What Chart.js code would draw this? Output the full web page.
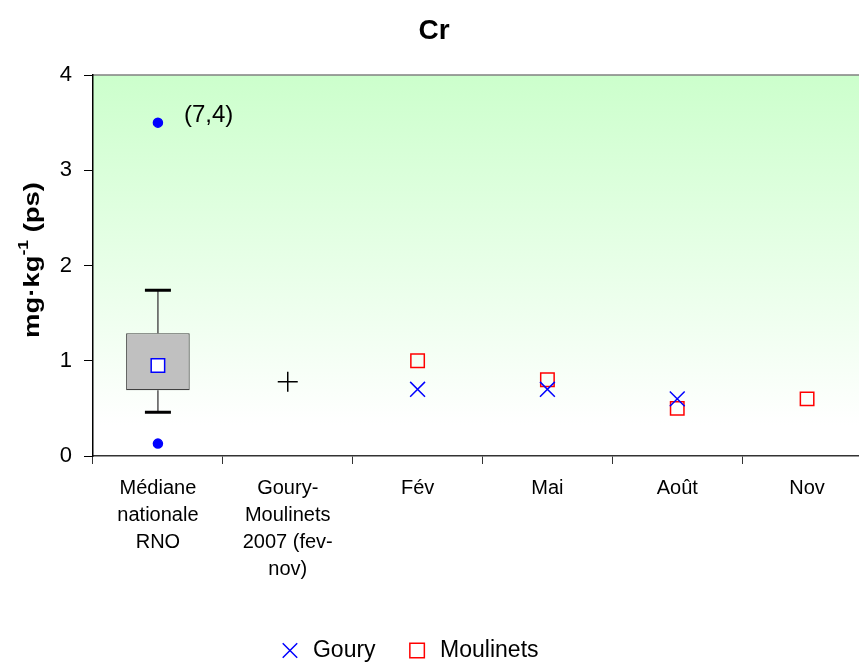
<!DOCTYPE html>
<html>
<head>
<meta charset="utf-8">
<script src="https://cdn.jsdelivr.net/npm/chart.js@4.4.0/dist/chart.umd.min.js"></script>
<style>
  html, body { margin: 0; padding: 0; background: #fff; overflow: hidden; }
  #wrap { width: 884px; height: 672px; position: relative; }
</style>
</head>
<body>
<div id="wrap"><canvas id="chart"></canvas></div>
<script>
// categories and values
const categories = [
  ['Médiane', 'nationale', 'RNO'],
  ['Goury-', 'Moulinets', '2007 (fev-', 'nov)'],
  'Fév', 'Mai', 'Août', 'Nov'
];
const rnoBox = [0.46, 0.69, 0.95, 1.29, 1.74];   // min, q1, median, q3, max
const rnoOutliers = [0.13, 3.5];
const outlierLabel = '(7,4)';
const goury2007 = [null, 0.78, null, null, null, null];
const goury = [null, null, 0.70, 0.70, 0.60, null];
const moulinets = [null, null, 1.0, 0.8, 0.5, 0.6];
const yTicks = [0, 1, 2, 3, 4];

const FONT = "'Liberation Sans', Arial, sans-serif";

// green gradient plot background + grey top border
const bgPlugin = {
  id: 'bg',
  beforeDraw(chart) {
    const { ctx, chartArea: a } = chart;
    const g = ctx.createLinearGradient(0, a.top, 0, a.bottom);
    g.addColorStop(0, '#ccffcc');
    g.addColorStop(0.92, '#ffffff');
    ctx.save();
    ctx.fillStyle = g;
    ctx.fillRect(a.left, a.top, a.right - a.left, a.bottom - a.top);
    ctx.strokeStyle = '#808080';
    ctx.lineWidth = 1.5;
    ctx.beginPath();
    ctx.moveTo(a.left, a.top);
    ctx.lineTo(a.right, a.top);
    ctx.stroke();
    ctx.restore();
  },
  afterLayout(chart) {
    // legend sits a little left of the canvas centre in the reference
    chart.legend.right -= 64;
  }
};

// whiskers for the RNO box
const whiskerPlugin = {
  id: 'whiskers',
  beforeDatasetsDraw(chart) {
    const { ctx, scales: { x, y } } = chart;
    const cx = x.getPixelForValue(0);
    const [lo, q1, , q3, hi] = rnoBox;
    ctx.save();
    ctx.strokeStyle = '#555';
    ctx.lineWidth = 1.5;
    ctx.beginPath();
    ctx.moveTo(cx, y.getPixelForValue(q3));
    ctx.lineTo(cx, y.getPixelForValue(hi));
    ctx.moveTo(cx, y.getPixelForValue(q1));
    ctx.lineTo(cx, y.getPixelForValue(lo));
    ctx.stroke();
    ctx.strokeStyle = '#000';
    ctx.lineWidth = 3;
    ctx.beginPath();
    [lo, hi].forEach(v => {
      const py = y.getPixelForValue(v);
      ctx.moveTo(cx - 13, py);
      ctx.lineTo(cx + 13, py);
    });
    ctx.stroke();
    ctx.restore();
  }
};

// title, "(7,4)" next to the top outlier, and the y axis title with superscript
const textPlugin = {
  id: 'texts',
  afterDraw(chart) {
    const { ctx, scales: { x, y } } = chart;
    ctx.save();
    ctx.fillStyle = '#000';
    ctx.textAlign = 'center';
    ctx.textBaseline = 'middle';
    ctx.font = 'bold 28px ' + FONT;
    ctx.fillText('Cr', 434, 31);

    ctx.font = '24px ' + FONT;
    ctx.textAlign = 'left';
    ctx.fillText(outlierLabel, x.getPixelForValue(0) + 26, y.getPixelForValue(rnoOutliers[1]) - 7);

    ctx.translate(33, 260);
    ctx.rotate(-Math.PI / 2);
    const bold = 'bold 22px ' + FONT;
    const sup = 'bold 14px ' + FONT;
    const parts = [['mg·kg', bold, 0], ['-1', sup, -9], [' (ps)', bold, 0]];
    let total = 0;
    parts.forEach(p => { ctx.font = p[1]; total += ctx.measureText(p[0]).width; });
    const stretch = 156 / total;
    ctx.scale(stretch, 1);
    let px = -total / 2;
    parts.forEach(p => {
      ctx.font = p[1];
      ctx.fillText(p[0], px, p[2]);
      px += ctx.measureText(p[0]).width;
    });
    ctx.restore();
  }
};

const pointSet = (label, data, style, radius, border, fill) => ({
  type: 'line',
  label,
  data,
  showLine: false,
  pointStyle: style,
  pointRadius: radius,
  pointHoverRadius: radius,
  pointBorderColor: border,
  pointBackgroundColor: fill,
  pointBorderWidth: 1.5,
  borderColor: border,
  backgroundColor: fill
});

const outlierSets = rnoOutliers.map(v =>
  pointSet('Extrême', [v, null, null, null, null, null], 'circle', 4.5, '#0000ff', '#0000ff'));

new Chart(document.getElementById('chart'), {
  type: 'bar',
  data: {
    labels: categories,
    datasets: [
      pointSet('Goury', goury, 'crossRot', 10.5, '#0000ff', '#0000ff'),
      pointSet('Moulinets', moulinets, 'rect', 9.5, '#ff0000', 'rgba(255,255,255,0)'),
      pointSet('Médiane', [rnoBox[2], null, null, null, null, null], 'rect', 9.5, '#0000ff', '#ffffff'),
      pointSet('Goury-Moulinets 2007', goury2007, 'cross', 10, '#000000', '#000000'),
      ...outlierSets,
      {
        type: 'bar',
        label: 'RNO',
        data: [[rnoBox[1], rnoBox[3]], null, null, null, null, null],
        backgroundColor: '#c0c0c0',
        borderColor: '#404040',
        borderWidth: 1.2,
        borderSkipped: false,
        barPercentage: 0.49,
        categoryPercentage: 1
      }
    ]
  },
  options: {
    responsive: true,
    maintainAspectRatio: false,
    animation: false,
    layout: { padding: { top: 75, left: 0, right: 3, bottom: 0 } },
    plugins: {
      tooltip: { enabled: false },
      title: { display: false },
      legend: {
        position: 'bottom',
        labels: {
          usePointStyle: true,
          boxHeight: 14.5,
          color: '#000',
          padding: 30,
          font: { family: FONT, size: 23 },
          filter: item => item.text === 'Goury' || item.text === 'Moulinets'
        }
      }
    },
    scales: {
      x: {
        offset: true,
        grid: { offset: true, drawOnChartArea: false, tickLength: 8, tickColor: '#333' },
        border: { color: '#333', width: 1.5 },
        ticks: {
          color: '#000',
          font: { family: FONT, size: 20, lineHeight: 1.35 },
          padding: 11,
          maxRotation: 0,
          autoSkip: false
        },
        afterFit(scale) { scale.height = 153; }
      },
      y: {
        min: yTicks[0],
        max: yTicks[yTicks.length - 1],
        afterBuildTicks(scale) { scale.ticks = yTicks.map(v => ({ value: v })); },
        grid: { drawOnChartArea: false, tickLength: 9, tickColor: '#000' },
        border: { color: '#000', width: 1.5 },
        ticks: { color: '#000', font: { family: FONT, size: 22 }, padding: 12 },
        afterFit(scale) { scale.width = 93; }
      }
    }
  },
  plugins: [bgPlugin, whiskerPlugin, textPlugin]
});
</script>
</body>
</html>
